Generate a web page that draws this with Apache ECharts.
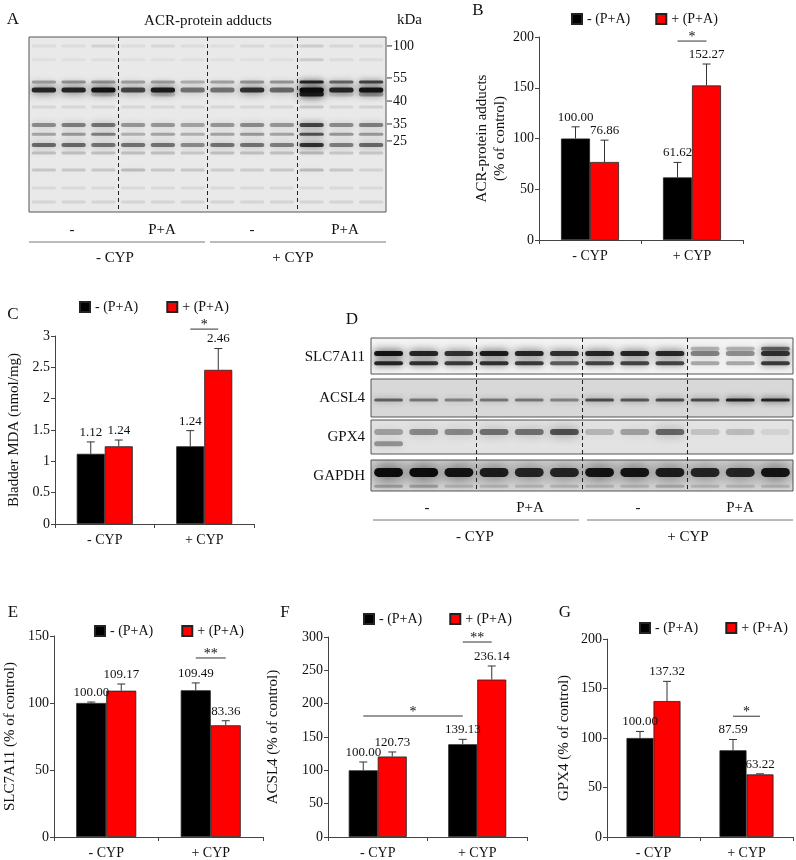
<!DOCTYPE html>
<html>
<head>
<meta charset="utf-8">
<script src="https://cdn.jsdelivr.net/npm/echarts@6/dist/echarts.min.js"></script>
<style>html,body{margin:0;padding:0;background:#fff}#c{width:796px;height:860px}</style>
</head>
<body>
<div id="c"></div>
<script>
// ---------------- DATA ----------------
const categories = ['- CYP', '+ CYP'];
const seriesNames = ['- (P+A)', '+ (P+A)'];

// B: ACR-protein adducts (% of control)
const adductsMinus = [100.00, 61.62];
const adductsPlus = [76.86, 152.27];
const adductsMinusErr = [11.5, 14.8];
const adductsPlusErr = [21.5, 21.1];
const adductsSig = [[1, -1, 1, 1, 196]];
const adductsSigText = ['*'];

// C: Bladder MDA (nmol/mg)
const mdaMinus = [1.12, 1.24];
const mdaPlus = [1.24, 2.46];
const mdaMinusErr = [0.19, 0.25];
const mdaPlusErr = [0.10, 0.34];
const mdaSig = [[1, -1, 1, 1, 3.11]];
const mdaSigText = ['*'];

// E: SLC7A11 (% of control)
const slcMinus = [100.00, 109.49];
const slcPlus = [109.17, 83.36];
const slcMinusErr = [0.7, 5.5];
const slcPlusErr = [5.0, 3.4];
const slcSig = [[1, -1, 1, 1, 133.6]];
const slcSigText = ['**'];

// F: ACSL4 (% of control)
const acslMinus = [100.00, 139.13];
const acslPlus = [120.73, 236.14];
const acslMinusErr = [12.5, 7.4];
const acslPlusErr = [6.8, 20.4];
const acslSig = [[0, -1, 1, -1, 181.5], [1, -1, 1, 1, 292.5]];
const acslSigText = ['*', '**'];

// G: GPX4 (% of control)
const gpxMinus = [100.00, 87.59];
const gpxPlus = [137.32, 63.22];
const gpxMinusErr = [6.6, 10.9];
const gpxPlusErr = [19.9, 0.6];
const gpxSig = [[1, -1, 1, 1, 122]];
const gpxSigText = ['*'];

// A: blot marker ladder (position in % of blot height) and kDa labels
const markerPos = [5.1, 23.4, 36.6, 49.7, 59.4];
const markerKDa = ['100', '55', '40', '35', '25'];

// A: band rows: position (% of blot height), thickness, darkness per lane (12 lanes)
const bandPosA = [5.1, 13, 25.7, 30.3, 32.5, 40, 50.3, 55.5, 61.7, 66.3, 76, 86.3, 94.3];
const bandThickA = [3, 3, 3, 5, 5, 3, 4, 3, 4, 3, 3, 3, 3];
const bandDarkA = [
  [0.06,0.06,0.10,0.06,0.08,0.06,0.05,0.07,0.06,0.12,0.08,0.08],
  [0.04,0.04,0.05,0.04,0.04,0.04,0.04,0.04,0.04,0.12,0.06,0.06],
  [0.30,0.35,0.35,0.30,0.30,0.25,0.30,0.35,0.35,0.85,0.55,0.70],
  [0.85,0.85,0.95,0.70,0.90,0.50,0.50,0.80,0.55,1.00,0.85,0.95],
  [0.00,0.00,0.15,0.00,0.15,0.00,0.00,0.00,0.00,0.90,0.10,0.30],
  [0.08,0.08,0.08,0.08,0.08,0.08,0.08,0.08,0.08,0.15,0.08,0.10],
  [0.40,0.45,0.50,0.35,0.35,0.30,0.35,0.40,0.35,0.70,0.40,0.45],
  [0.30,0.35,0.45,0.25,0.30,0.25,0.30,0.35,0.30,0.65,0.35,0.35],
  [0.55,0.55,0.50,0.50,0.50,0.40,0.50,0.50,0.45,0.80,0.45,0.55],
  [0.18,0.18,0.18,0.18,0.18,0.15,0.18,0.18,0.18,0.20,0.15,0.15],
  [0.15,0.15,0.15,0.20,0.15,0.15,0.12,0.12,0.15,0.20,0.15,0.10],
  [0.07,0.07,0.07,0.07,0.07,0.07,0.07,0.07,0.07,0.07,0.07,0.07],
  [0.09,0.09,0.09,0.09,0.09,0.09,0.09,0.09,0.09,0.09,0.09,0.09]
];

// D: blot rows
const blotNamesD = ['SLC7A11', 'ACSL4', 'GPX4', 'GAPDH'];
const bandPosD = [[30, 43, 70], [55], [35, 70], [40, 85]];
const bandThickD = [[4, 5, 4], [3], [6, 5], [9, 3]];
const bandDarkD = [
  [
    [0,0,0,0,0,0,0,0,0,0.25,0.25,0.55],
    [0.95,0.85,0.80,0.90,0.85,0.80,0.85,0.85,0.85,0.45,0.40,0.80],
    [0.85,0.80,0.75,0.80,0.75,0.60,0.70,0.70,0.70,0.30,0.30,0.75]
  ],
  [
    [0.55,0.45,0.40,0.45,0.45,0.40,0.65,0.60,0.65,0.65,0.85,0.85]
  ],
  [
    [0.30,0.40,0.40,0.50,0.50,0.65,0.20,0.30,0.55,0.15,0.18,0.08],
    [0.35,0,0,0,0,0,0,0,0,0,0,0]
  ],
  [
    [1.00,1.00,0.95,0.90,0.85,0.85,0.95,0.95,0.90,0.85,0.85,0.95],
    [0.25,0.25,0.15,0.15,0.15,0.15,0.15,0.15,0.20,0.15,0.15,0.15]
  ]
];

// ---------------- LAYOUT / STYLE ----------------
const FONT = 'Liberation Serif';
const TXT = '#111';
const AX = '#444';

const panels = [
  {minus: adductsMinus, plus: adductsPlus, minusErr: adductsMinusErr, plusErr: adductsPlusErr, sig: adductsSig, sigText: adductsSigText,
   grid: {left: 539, top: 37, width: 204, height: 203}, bw: 29, max: 200, interval: 50,
   name: 'ACR-protein adducts\n(% of control)', nameGap: 30, legend: {left: 571, top: 12, gap: 25}},
  {minus: mdaMinus, plus: mdaPlus, minusErr: mdaMinusErr, plusErr: mdaPlusErr, sig: mdaSig, sigText: mdaSigText,
   grid: {left: 55, top: 336, width: 199, height: 188}, bw: 28, max: 3, interval: 0.5,
   name: 'Bladder MDA (nmol/mg)', nameGap: 32, legend: {left: 79, top: 300, gap: 28}},
  {minus: slcMinus, plus: slcPlus, minusErr: slcMinusErr, plusErr: slcPlusErr, sig: slcSig, sigText: slcSigText,
   grid: {left: 51, top: 636, width: 212, height: 201}, bw: 30, max: 150, interval: 50,
   name: 'SLC7A11 (% of control)', nameGap: 35, legend: {left: 94, top: 624, gap: 28}},
  {minus: acslMinus, plus: acslPlus, minusErr: acslMinusErr, plusErr: acslPlusErr, sig: acslSig, sigText: acslSigText,
   grid: {left: 328, top: 637, width: 199, height: 200}, bw: 29, max: 300, interval: 50,
   name: 'ACSL4 (% of control)', nameGap: 46, legend: {left: 363, top: 612, gap: 27}},
  {minus: gpxMinus, plus: gpxPlus, minusErr: gpxMinusErr, plusErr: gpxPlusErr, sig: gpxSig, sigText: gpxSigText,
   grid: {left: 607, top: 639, width: 186, height: 198}, bw: 27, max: 200, interval: 50,
   name: 'GPX4 (% of control)', nameGap: 34, legend: {left: 639, top: 621, gap: 27}}
];

const blotGridA = {left: 29, top: 37, width: 357, height: 175, bg: '#e9e9e9'};
const blotGridsD = [
  {left: 371, top: 338, width: 422, height: 36, bg: '#f3f3f3'},
  {left: 371, top: 379, width: 422, height: 38, bg: '#d8d8d8'},
  {left: 371, top: 420, width: 422, height: 34, bg: '#e3e3e3'},
  {left: 371, top: 460, width: 422, height: 31, bg: '#d9d9d9'}
];
const overlayD = {left: 371, top: 338, width: 422, height: 153};

// ---------------- BUILD ----------------
const grid = [], xAxis = [], yAxis = [], series = [], legend = [];

function bandRender(params, api) {
  const lane = api.value(0), pos = api.value(1), dark = api.value(2), thick = api.value(3);
  if (dark <= 0) return null;
  const c = api.coord([lane + 0.5, pos]);
  const w = api.size([1, 0])[0] * 0.82;
  const col = 'rgba(12,12,12,' + dark + ')';
  return {
    type: 'rect',
    shape: {x: c[0] - w / 2, y: c[1] - thick / 2, width: w, height: thick, r: thick / 2},
    style: {fill: col, shadowBlur: thick * 1.4 + 2, shadowColor: col}
  };
}

function bandData(posArr, thickArr, darkArr) {
  const out = [];
  posArr.forEach((p, r) => {
    darkArr[r].forEach((d, lane) => out.push([lane, p, d, thickArr[r]]));
  });
  return out;
}

function markerRender(params, api) {
  const pos = api.value(0);
  const c = api.coord([12, pos]);
  return {type: 'line', shape: {x1: c[0] + 1, y1: c[1], x2: c[0] + 6, y2: c[1]},
          style: {stroke: '#333', lineWidth: 1}};
}

function addBlotGrid(g, withMarkers, splitLines) {
  const gi = grid.length;
  grid.push({left: g.left, top: g.top, width: g.width, height: g.height, show: !!g.bg,
             backgroundColor: g.bg || 'transparent', borderColor: g.bg ? '#555' : 'transparent', borderWidth: 1, containLabel: false});
  xAxis.push({gridIndex: gi, type: 'value', min: 0, max: 12, interval: 3, z: 3,
              axisLine: {show: false}, axisTick: {show: false}, axisLabel: {show: false},
              splitLine: {show: splitLines, showMinLine: false, showMaxLine: false,
                          lineStyle: {color: '#222', width: 1, type: [4, 3]}}});
  const ya = {gridIndex: gi, type: 'value', min: 0, max: 100, inverse: true,
              axisLine: {show: false}, splitLine: {show: false},
              axisTick: {show: false}, axisLabel: {show: false}};
  if (withMarkers) {
    ya.position = 'right';
    ya.axisLabel = {show: true, customValues: markerPos, margin: 7, fontFamily: FONT, fontSize: 14, color: TXT,
                    formatter: v => markerKDa[markerPos.indexOf(v)]};
  }
  yAxis.push(ya);
  return gi;
}

// A blot
const giA = addBlotGrid(blotGridA, true, true);
series.push({type: 'custom', xAxisIndex: giA, yAxisIndex: giA, renderItem: bandRender, clip: true,
             data: bandData(bandPosA, bandThickA, bandDarkA), silent: true});
series.push({type: 'custom', xAxisIndex: giA, yAxisIndex: giA, renderItem: markerRender, clip: false,
             data: markerPos.map(p => [p]), silent: true});

// D blots
blotGridsD.forEach((g, k) => {
  const gi = addBlotGrid(g, false, false);
  series.push({type: 'custom', xAxisIndex: gi, yAxisIndex: gi, renderItem: bandRender, clip: true,
               data: bandData(bandPosD[k], bandThickD[k], bandDarkD[k]), silent: true});
});
const giOv = addBlotGrid(overlayD, false, true);
xAxis[giOv].z = 5;

// Bar panels
function errRender(side, bw) {
  return function (params, api) {
    const cat = api.value(0), v = api.value(1), e = api.value(2);
    const base = api.coord([cat, v]);
    const top = api.coord([cat, v + e]);
    const x = base[0] + side * bw / 2;
    return {
      type: 'group',
      children: [
        {type: 'line', shape: {x1: x, y1: base[1], x2: x, y2: top[1]}, style: {stroke: '#333', lineWidth: 1}},
        {type: 'line', shape: {x1: x - 4, y1: top[1], x2: x + 4, y2: top[1]}, style: {stroke: '#333', lineWidth: 1}},
        {type: 'text', style: {text: v.toFixed(2), x: x, y: top[1] - 3, align: 'center', verticalAlign: 'bottom',
                               font: '13px "' + FONT + '"', fill: TXT}}
      ]
    };
  };
}

function sigRender(texts, bw) {
  return function (params, api) {
    const c1 = api.value(0), s1 = api.value(1), c2 = api.value(2), s2 = api.value(3), y = api.value(4);
    const p1 = api.coord([c1, y]), p2 = api.coord([c2, y]);
    const x1 = p1[0] + s1 * bw / 2, x2 = p2[0] + s2 * bw / 2;
    return {
      type: 'group',
      children: [
        {type: 'line', shape: {x1: x1, y1: p1[1], x2: x2, y2: p1[1]}, style: {stroke: '#333', lineWidth: 1}},
        {type: 'text', style: {text: texts[params.dataIndex], x: (x1 + x2) / 2, y: p1[1] + 3, align: 'center',
                               verticalAlign: 'bottom', font: '14px "' + FONT + '"', fill: TXT}}
      ]
    };
  };
}

panels.forEach(p => {
  const gi = grid.length;
  grid.push(Object.assign({containLabel: false}, p.grid));
  xAxis.push({gridIndex: gi, type: 'category', data: categories, boundaryGap: true,
              axisLine: {lineStyle: {color: AX, width: 1}},
              axisTick: {show: true, alignWithLabel: false, length: 4, lineStyle: {color: AX}},
              axisLabel: {margin: 9, fontFamily: FONT, fontSize: 14, color: TXT},
              splitLine: {show: false}});
  yAxis.push({gridIndex: gi, type: 'value', min: 0, max: p.max, interval: p.interval,
              name: p.name, nameLocation: 'middle', nameGap: p.nameGap,
              nameTextStyle: {fontFamily: FONT, fontSize: 15, color: TXT, lineHeight: 18},
              axisLine: {show: true, lineStyle: {color: AX, width: 1}},
              axisTick: {show: true, length: 4, lineStyle: {color: AX}},
              axisLabel: {margin: 5, fontFamily: FONT, fontSize: 14, color: TXT},
              splitLine: {show: false}});
  const cols = ['#000000', '#ff0000'];
  [p.minus, p.plus].forEach((vals, s) => {
    series.push({type: 'bar', name: seriesNames[s], xAxisIndex: gi, yAxisIndex: gi, data: vals,
                 barWidth: p.bw, barGap: '0%',
                 itemStyle: {color: cols[s], borderColor: '#222', borderWidth: 0.8}, silent: true});
  });
  [[p.minus, p.minusErr, -1], [p.plus, p.plusErr, 1]].forEach(([vals, errs, side]) => {
    series.push({type: 'custom', xAxisIndex: gi, yAxisIndex: gi, clip: false, silent: true, z: 4,
                 renderItem: errRender(side, p.bw),
                 data: vals.map((v, i) => [i, v, errs[i]])});
  });
  series.push({type: 'custom', xAxisIndex: gi, yAxisIndex: gi, clip: false, silent: true, z: 4,
               renderItem: sigRender(p.sigText, p.bw), data: p.sig});
  legend.push({left: p.legend.left, top: p.legend.top, padding: 0, itemGap: p.legend.gap,
               itemWidth: 10, itemHeight: 10, icon: 'rect', selectedMode: false,
               textStyle: {fontFamily: FONT, fontSize: 14, color: TXT},
               data: seriesNames});
});

// ---------------- ANNOTATIONS ----------------
function txt(x, y, text, size, align) {
  return {type: 'text', x: x, y: y, silent: true,
          style: {text: text, font: size + 'px "' + FONT + '"', fill: TXT, align: align || 'center', verticalAlign: 'middle'}};
}
function hline(x1, x2, y) {
  return {type: 'line', silent: true, shape: {x1: x1, y1: y, x2: x2, y2: y}, style: {stroke: '#777', lineWidth: 1}};
}
const graphics = [
  txt(13, 20, 'A', 17), txt(208, 21, 'ACR-protein adducts', 15), txt(397, 20, 'kDa', 15, 'left'),
  txt(72, 230, '-', 15), txt(162, 230, 'P+A', 15), txt(252, 230, '-', 15), txt(345, 230, 'P+A', 15),
  hline(29, 205, 242), hline(210, 386, 242),
  txt(115, 258, '- CYP', 15), txt(293, 258, '+ CYP', 15),
  txt(478, 11, 'B', 17), txt(13, 315, 'C', 17), txt(352, 320, 'D', 17),
  txt(13, 613, 'E', 17), txt(285, 613, 'F', 17), txt(565, 613, 'G', 17),
  txt(427, 508, '-', 15), txt(530, 508, 'P+A', 15), txt(638, 508, '-', 15), txt(740, 508, 'P+A', 15),
  hline(373, 579, 520), hline(587, 793, 520),
  txt(475, 537, '- CYP', 15), txt(688, 537, '+ CYP', 15)
];
const labelY = [357, 398, 437, 476];
blotNamesD.forEach((n, i) => graphics.push(txt(365, labelY[i], n, 15, 'right')));

const chart = echarts.init(document.getElementById('c'), null, {renderer: 'canvas'});
chart.setOption({
  animation: false,
  backgroundColor: '#ffffff',
  textStyle: {fontFamily: FONT},
  grid: grid, xAxis: xAxis, yAxis: yAxis, series: series, legend: legend,
  graphic: {elements: graphics}
});
</script>
</body>
</html>
